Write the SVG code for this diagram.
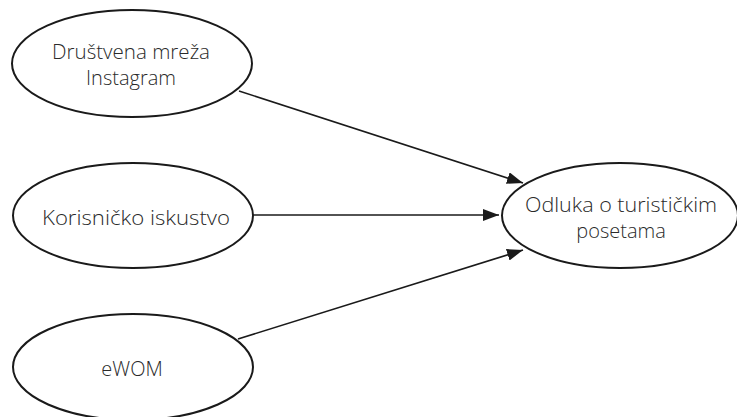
<svg xmlns="http://www.w3.org/2000/svg" width="737" height="417" viewBox="0 0 737 417">
  <style>
    .node ellipse { fill: #fff; stroke: #1a1a1a; stroke-width: 2; }
    .node text { font-family: "Open Sans", "Liberation Sans", sans-serif; font-weight: 300; font-size: 20px; fill: #2a2a2a; text-anchor: middle; }
    .edge { stroke: #1a1a1a; stroke-width: 1.6; fill: none; marker-end: url(#arrow); }
  </style>
  <defs>
    <marker id="arrow" viewBox="0 0 16 12" refX="16" refY="6" markerWidth="16" markerHeight="12" markerUnits="userSpaceOnUse" orient="auto">
      <path d="M0,0 L16,6 L0,12 z" fill="#1a1a1a"/>
    </marker>
  </defs>
  <rect width="737" height="417" fill="#fff"/>

  <g id="connectors">
    <line class="edge" x1="239" y1="91" x2="523" y2="183"/>
    <line class="edge" x1="253" y1="215" x2="499" y2="215"/>
    <line class="edge" x1="238" y1="339" x2="523" y2="250"/>
  </g>

  <g id="instagram" class="node">
    <ellipse cx="132" cy="63.5" rx="120" ry="53.5"/>
    <text x="131" y="59" textLength="158" lengthAdjust="spacingAndGlyphs">Društvena mreža</text>
    <text x="131" y="85">Instagram</text>
  </g>

  <g id="korisnicko" class="node">
    <ellipse cx="133" cy="215.5" rx="120" ry="52.5"/>
    <text x="136" y="225" textLength="188" lengthAdjust="spacingAndGlyphs">Korisničko iskustvo</text>
  </g>

  <g id="ewom" class="node">
    <ellipse cx="133" cy="367" rx="120" ry="53"/>
    <text x="132" y="376">eWOM</text>
  </g>

  <g id="odluka" class="node">
    <ellipse cx="620" cy="215.5" rx="118" ry="52.5"/>
    <text x="621" y="212" textLength="192" lengthAdjust="spacingAndGlyphs">Odluka o turističkim</text>
    <text x="621" y="238">posetama</text>
  </g>
</svg>
